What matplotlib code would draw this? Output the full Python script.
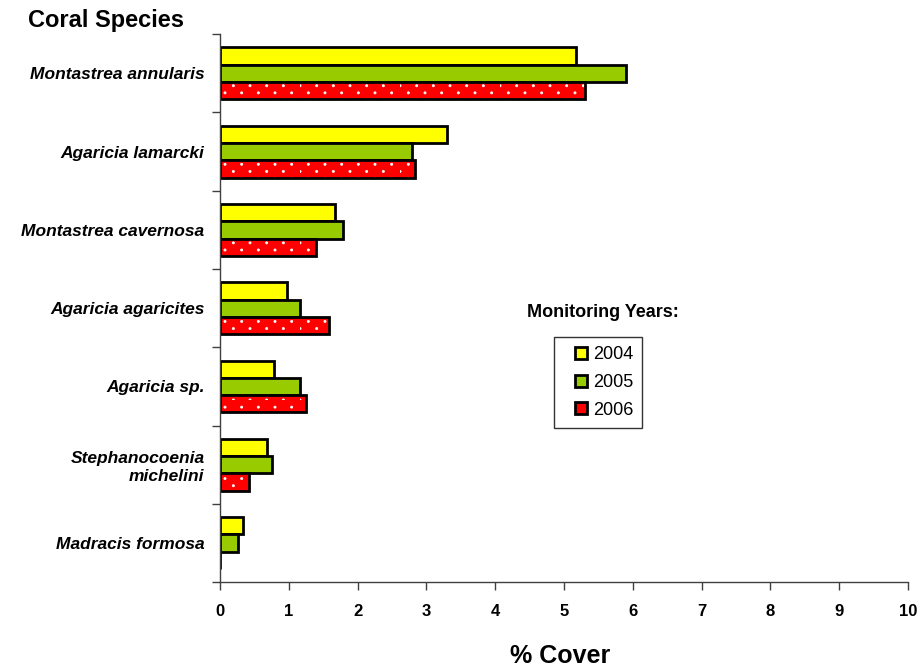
import matplotlib.pyplot as plt
import matplotlib.hatch as mhatch
import numpy as np
from matplotlib.lines import Line2D
from matplotlib.path import Path

plt.rcParams['font.family'] = ['Liberation Sans', 'DejaVu Sans']
plt.rcParams['hatch.linewidth'] = 0.5

species = ["Montastrea annularis", "Agaricia lamarcki", "Montastrea cavernosa",
           "Agaricia agaricites", "Agaricia sp.", "Stephanocoenia\nmichelini",
           "Madracis formosa"]
years = ["2004", "2005", "2006"]
cover_2004 = [5.18, 3.30, 1.67, 0.98, 0.78, 0.69, 0.34]
cover_2005 = [5.90, 2.79, 1.79, 1.17, 1.16, 0.76, 0.26]
cover_2006 = [5.31, 2.84, 1.39, 1.59, 1.25, 0.43, 0.0]
colors = ["#FFFF00", "#99CC00", "#FF0000"]


class SparseDots(mhatch.HatchPatternBase):
    # small dots in staggered rows, like the old spreadsheet fill pattern
    def __init__(self, hatch, density):
        circle = Path.unit_circle()
        self.circle_v = circle.vertices
        self.circle_c = circle.codes
        rows, cols = 14, 6
        self.centres = []
        if hatch.count('.'):
            self.centres = [((j + 0.5 * (k % 2)) / cols, k / rows)
                            for k in range(rows) for j in range(cols)]
        self.num_vertices = len(self.centres) * len(self.circle_v)

    def set_vertices_and_codes(self, vertices, codes):
        parts = [self.circle_v * 0.011 + c for c in self.centres]
        vertices[:] = np.concatenate(parts)
        codes[:] = np.tile(self.circle_c, len(self.centres))


mhatch._hatch_types = [t for t in mhatch._hatch_types
                       if t is not mhatch.SmallFilledCircles] + [SparseDots]

fig = plt.figure(figsize=(9.2, 6.7), dpi=100)
ax = fig.add_axes([0.239, 0.131, 0.748, 0.818])

y = np.arange(len(species))
h = 0.221
series = [cover_2004, cover_2005, cover_2006]
for i, vals in enumerate(series):
    pos = y + (i - 1) * h
    if i == 2:
        # dotted fill first, then black outline on top
        ax.barh(pos, vals, height=h, color=colors[i], edgecolor='white',
                hatch='.', linewidth=0)
        ax.barh(pos, vals, height=h, fill=False, edgecolor='black', linewidth=2)
    else:
        ax.barh(pos, vals, height=h, color=colors[i], edgecolor='black', linewidth=2)

ax.set_xlim(0, 10)
ax.set_ylim(len(species) - 0.5, -0.5)
ax.set_xticks(range(0, 11))
ax.set_yticks(y)
ax.set_yticklabels(species, fontsize=12.5, fontweight='bold', style='italic')
ax.set_yticks(np.arange(len(species) + 1) - 0.5, minor=True)
ax.tick_params(axis='y', which='major', length=0, pad=11)
ax.tick_params(axis='y', which='minor', length=6, width=1, color='#404040', direction='out')
ax.tick_params(axis='x', length=6, width=1, color='#404040', direction='out', pad=10)
for lab in ax.get_xticklabels():
    lab.set_fontsize(12)
    lab.set_fontweight('bold')

for side in ['top', 'right']:
    ax.spines[side].set_visible(False)
for side in ['left', 'bottom']:
    ax.spines[side].set_color('#404040')
    ax.spines[side].set_linewidth(1)

ax.set_xlabel("% Cover", fontsize=18, fontweight='bold')
ax.xaxis.label.set_va('baseline')
ax.xaxis.set_label_coords(0.494, -0.148)
fig.text(0.03, 0.960, "Coral Species", fontsize=17, fontweight='bold',
         va='baseline', ha='left')

handles = [Line2D([], [], linestyle='none', marker='s', markersize=8.5,
                  markerfacecolor=c, markeredgecolor='black', markeredgewidth=2)
           for c in colors]
leg = fig.legend(handles, years, loc='upper left', bbox_to_anchor=(0.602, 0.497),
                 fontsize=13, frameon=True, fancybox=False, handlelength=2.05,
                 handletextpad=-0.4, labelspacing=0.6, borderpad=0.5,
                 borderaxespad=0)
leg.get_frame().set_edgecolor('black')
leg.get_frame().set_linewidth(1)
fig.text(0.655, 0.534, "Monitoring Years:", fontsize=13, fontweight='bold',
         ha='center', va='center')

fig.savefig("out.png", dpi=100)
